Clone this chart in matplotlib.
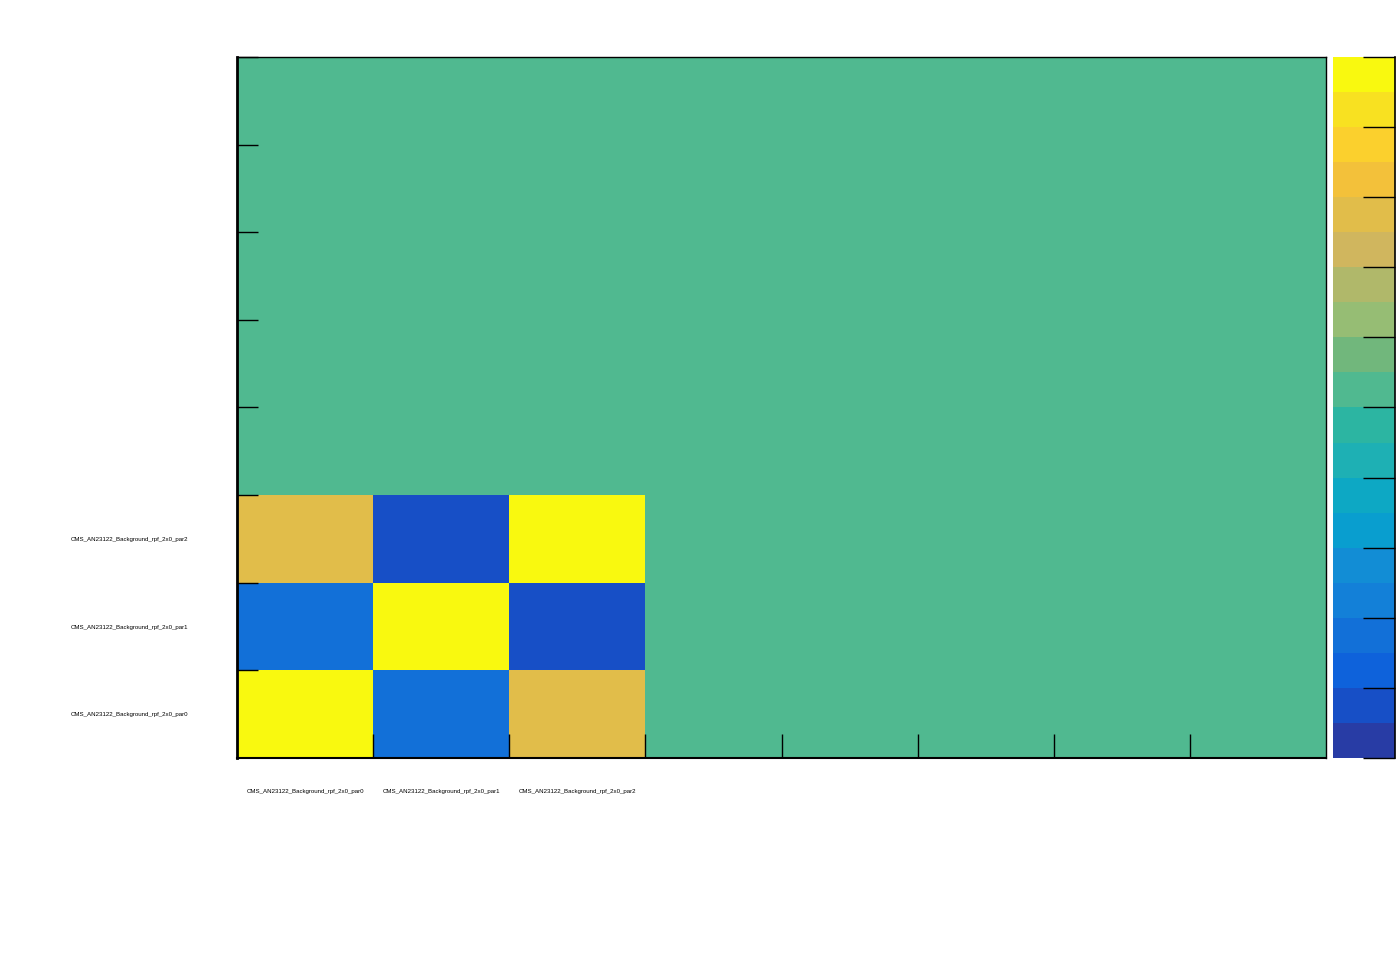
import numpy as np
import matplotlib
matplotlib.use("Agg")
import matplotlib.pyplot as plt
from matplotlib.colors import ListedColormap

# parameter names (only the first three bins are filled)
params = ["CMS_AN23122_Background_rpf_2x0_par0",
          "CMS_AN23122_Background_rpf_2x0_par1",
          "CMS_AN23122_Background_rpf_2x0_par2"]
n_bins = 8

# correlation values between the parameters
corr_01 = -0.65
corr_02 = 0.55
corr_12 = -0.85

# 20-step palette, bottom to top
palette = ["#283ca5", "#174fc6", "#0e62db", "#1270d8", "#1380d8",
           "#128dd5", "#099ecf", "#0da8c4", "#1eb0b4", "#2cb5a2",
           "#50b990", "#71b77c", "#96bd74", "#b0b86a", "#d0b65e",
           "#e1bd4a", "#f3c13a", "#fbd02d", "#f8e121", "#f9f90f"]

corr = np.zeros((n_bins, n_bins))
block = np.array([[1.0, corr_01, corr_02],
                  [corr_01, 1.0, corr_12],
                  [corr_02, corr_12, 1.0]])
corr[:3, :3] = block

W, H = 1396, 972
fig = plt.figure(figsize=(W / 100, H / 100), dpi=100)
ax = fig.add_axes([237 / W, (H - 758) / H, (1326 - 237) / W, (758 - 57) / H])
cax = fig.add_axes([1333 / W, (H - 758) / H, (1395 - 1333) / W, (758 - 57) / H])

cmap = ListedColormap(palette)
edges = np.arange(n_bins + 1)
mesh = ax.pcolormesh(edges, edges, corr, cmap=cmap, vmin=-1, vmax=1)
ax.set_xlim(0, n_bins)
ax.set_ylim(0, n_bins)

# frame
for side, lw in [("left", 2.0), ("bottom", 1.5), ("top", 1.0), ("right", 1.0)]:
    ax.spines[side].set_linewidth(lw)
    ax.spines[side].set_color("black")

# major ticks at bin edges, inward, no labels
ax.set_xticks(edges[1:-1])
ax.set_yticks(edges[1:])
ax.set_xticklabels([])
ax.set_yticklabels([])
ax.tick_params(axis="x", which="major", direction="in", length=17, width=1.0,
               bottom=True, top=False)
ax.tick_params(axis="y", which="major", direction="in", length=15, width=1.0,
               left=True, right=False)

# labels on bin centres
centers = np.arange(len(params)) + 0.5
ax.set_xticks(centers, params, minor=True)
ax.set_yticks(centers, params, minor=True)
ax.tick_params(which="minor", length=0)
ax.tick_params(axis="x", which="minor", pad=22)
ax.tick_params(axis="y", which="minor", pad=35)
for lab in ax.get_xticklabels(minor=True) + ax.get_yticklabels(minor=True):
    lab.set_fontsize(4.4)
    lab.set_family("Liberation Sans")

# colour bar
cb = fig.colorbar(mesh, cax=cax)
cb.outline.set_visible(False)
cax.spines["right"].set_visible(True)
cax.spines["right"].set_linewidth(1.2)
cb.set_ticks(np.linspace(-1, 1, 11))
cax.tick_params(axis="y", direction="in", length=23, width=1.0,
                labelright=False, right=True, left=False)

fig.savefig("out.png", dpi=100)
